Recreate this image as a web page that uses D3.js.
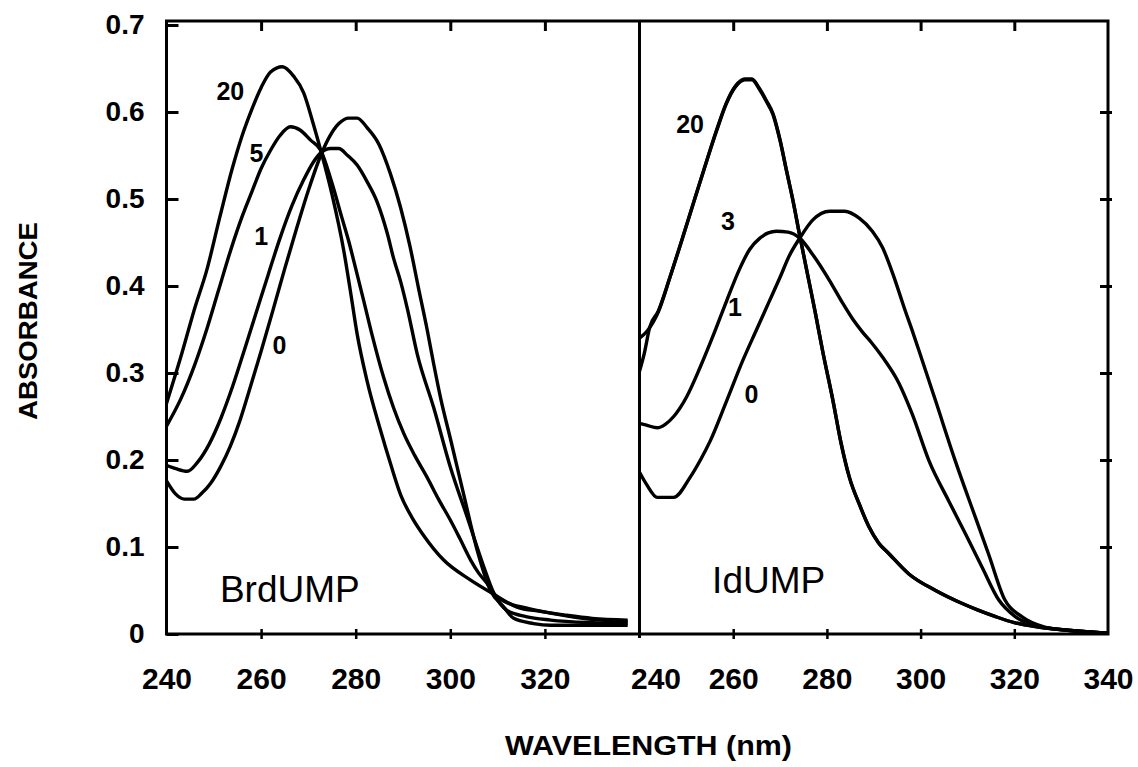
<!DOCTYPE html>
<html>
<head>
<meta charset="utf-8">
<script src="https://cdn.jsdelivr.net/npm/d3@7"></script>
<style>
  body { margin: 0; background: #fff; }
  text { font-family: "Liberation Sans", Arial, Helvetica, sans-serif; fill: #000; }
</style>
</head>
<body>
<svg id="chart" width="1138" height="767"></svg>
<script>
// absorbance readings, [wavelength nm, absorbance]
// BrdUMP panel
const brd20 = [[240,.265],[243,.318],[246,.375],[248.5,.418],[251.4,.482],[253.9,.535],[256,.573],[258.1,.604],[260,.628],[262,.646],[264.5,.652],[266.9,.641],[269,.622],[271.1,.585],[272.6,.556],[275,.505],[277.5,.44],[279,.39],[280.3,.345],[282.4,.291],[285.2,.235],[287.4,.195],[289.5,.160],[292,.133],[294.4,.113],[298.6,.085],[304.3,.062],[308.5,.048],[314.1,.031],[319,.026],[324,.022],[330,.018],[337.5,.016]];
const brd5 = [[240,.239],[243,.27],[246,.31],[248.5,.35],[251,.395],[253.5,.44],[256,.48],[258.1,.509],[260,.535],[262,.556],[264,.573],[266.2,.583],[268.3,.579],[270.4,.568],[272.6,.556],[275,.518],[277,.48],[278.5,.452],[280,.42],[281.7,.383],[283.5,.343],[285.9,.295],[288,.26],[290.2,.23],[292.5,.205],[295.1,.180],[297.5,.155],[300,.131],[302,.11],[304.3,.085],[306,.07],[307.8,.058],[309.1,.047],[312,.036],[316,.03],[321.2,.024],[328,.018],[337.5,.014]];
const brd1 = [[240,.194],[242,.19],[244.4,.187],[246.5,.197],[249,.218],[251.5,.248],[254,.285],[256.5,.327],[259,.37],[261.5,.413],[264,.455],[266.5,.492],[269,.522],[271,.542],[272.6,.553],[274.7,.558],[276.4,.558],[278.3,.55],[280.3,.539],[282.4,.52],[284.5,.497],[286.7,.46],[288,.432],[289.5,.405],[291,.372],[293,.322],[296.5,.26],[300,.192],[303.6,.134],[307.1,.077],[309.2,.047],[312,.027],[316,.02],[321.2,.016],[330,.013],[337.5,.012]];
const brd0 = [[240,.176],[241.9,.161],[243.8,.155],[245.8,.155],[247.5,.162],[249.3,.173],[251.5,.193],[253.5,.216],[255.5,.245],[257.5,.28],[260,.325],[262.5,.372],[265,.42],[267.5,.466],[270,.51],[272.6,.55],[274.5,.572],[276.5,.587],[278.5,.593],[280.3,.593],[282.4,.582],[284.9,.563],[287.4,.528],[289.5,.49],[291.5,.445],[293.3,.397],[295.1,.35],[296.5,.31],[298,.27],[300,.225],[302.8,.161],[305.7,.096],[308.5,.05],[311.3,.031],[313.4,.018],[317.6,.012],[321.2,.01],[337.5,.01]];

// IdUMP panel
const id20 = [[240,.34],[241.6,.348],[244,.37],[246.5,.41],[249,.452],[251.5,.495],[254,.538],[256.5,.58],[258.5,.61],[260.5,.63],[262.5,.638],[264,.638],[265.5,.628],[267.1,.613],[268.5,.598],[270,.568],[271.4,.532],[272.8,.497],[274.2,.458],[276.3,.402],[277.5,.37],[279.1,.325],[281.3,.268],[283,.22],[284.8,.180],[287,.148],[289,.123],[291,.105],[293.3,.092],[297.5,.069],[303.2,.050],[308.9,.035],[312,.028],[316,.020],[320,.013],[325.1,.008],[332,.004],[340,.001]];
const id3 = [[240,.302],[241,.322],[242.2,.353],[244,.371],[246.5,.41],[249,.452],[251.5,.495],[254,.538],[256.5,.579],[258.5,.609],[260.5,.629],[262.5,.637],[264,.637],[265.5,.627],[267.1,.612],[268.5,.597],[270,.567],[271.4,.532],[272.8,.497],[274.2,.458],[276.3,.402],[277.5,.37],[279.1,.325],[281.3,.268],[283,.22],[284.8,.180],[287,.148],[289,.123],[291,.105],[293.3,.092],[297.5,.069],[303.2,.050],[308.9,.035],[312,.028],[316,.020],[320,.013],[325.1,.008],[332,.004],[340,.001]];
const id1 = [[240,.242],[241.5,.24],[243.8,.237],[245.5,.241],[247.3,.25],[250.1,.273],[252.9,.306],[255.8,.344],[258.6,.383],[261.4,.42],[263.5,.442],[265.7,.455],[267.5,.461],[269.2,.463],[271.7,.462],[274.2,.455],[277,.436],[280.6,.406],[283.4,.38],[285.5,.362],[287.6,.347],[289.5,.335],[291.9,.318],[295.4,.288],[298.2,.253],[301.8,.199],[306,.153],[309.6,.115],[313.1,.077],[316.7,.039],[320.2,.020],[325.9,.008],[332,.004],[340,.001]];
const id0 = [[240,.186],[241.5,.172],[243.8,.157],[247.3,.157],[250.8,.180],[253,.2],[255.1,.222],[258.6,.268],[262.1,.315],[265,.35],[267.5,.38],[270,.41],[272,.435],[274.2,.455],[277,.476],[280.6,.486],[283.8,.486],[286.9,.478],[289.7,.463],[291.9,.444],[294,.415],[295.4,.393],[296.5,.375],[298.2,.349],[299.7,.325],[303.2,.268],[307.4,.199],[311.7,.134],[314.5,.092],[318,.039],[321.6,.020],[326.5,.008],[332,.004],[340,.001]];

// tick labels
const yTicks = [0, 0.1, 0.2, 0.3, 0.4, 0.5, 0.6, 0.7];
const xTicksLeft = [240, 260, 280, 300, 320];
const xTicksRight = [240, 260, 280, 300, 320, 340];

// curve labels [text, wavelength, absorbance]
const brdLabels = [["20", 253.5, .624], ["5", 259.0, .553], ["1", 260.0, .457], ["0", 263.9, .332]];
const idLabels = [["20", 250.8, .586], ["3", 258.9, .475], ["1", 260.4, .376], ["0", 263.9, .276]];

const svg = d3.select('#chart');

const y = d3.scaleLinear().domain([0, 0.7]).range([634, 25]);
const xL = d3.scaleLinear().domain([240, 340]).range([166.5, 639.5]);
const xR = d3.scaleLinear().domain([240, 340]).range([639.5, 1108]);

const frameTop = y(0.7) - 4;
const frameBottom = y(0);

function drawPanel(x, series, labels, name, nameAt, ticks, rightAxis) {
  const g = svg.append('g');

  // bottom axis: labels plus short ticks crossing the frame
  const bAxis = d3.axisBottom(x).tickValues(ticks).tickSize(0).tickPadding(34)
    .tickFormat(d3.format('d'));
  const gb = g.append('g').attr('transform', `translate(0,${frameBottom})`).call(bAxis);
  gb.select('.domain').remove();
  gb.selectAll('.tick').filter(d => d > 240 && d < 340).append('line')
    .attr('y1', -5).attr('y2', 5).attr('stroke', '#000').attr('stroke-width', 2.5);
  gb.selectAll('text').attr('font-size', 30).attr('font-weight', 'bold')
    .attr('font-family', '"Liberation Sans", Arial, sans-serif');
  if (rightAxis) gb.selectAll('.tick').filter(d => d === 240).select('text').attr('dx', 16);

  // top ticks pointing down
  const gt = g.append('g').attr('transform', `translate(0,${frameTop})`)
    .call(d3.axisTop(x).tickValues([260, 280, 300, 320]).tickSize(-10).tickFormat(''));
  gt.select('.domain').remove();
  gt.selectAll('line').attr('stroke-width', 3);

  if (rightAxis) {
    const gr = g.append('g').attr('transform', `translate(${x.range()[1]},0)`)
      .call(d3.axisRight(y).tickValues([0.1, 0.2, 0.3, 0.4, 0.5, 0.6]).tickSizeInner(-8).tickSizeOuter(0).tickFormat(''));
    gr.select('.domain').remove();
    gr.selectAll('.tick').append('line').attr('x1', 0).attr('x2', 4).attr('stroke', '#000');
    gr.selectAll('line').attr('stroke-width', 3);
  }

  const line = d3.line().x(d => x(d[0])).y(d => y(d[1])).curve(d3.curveMonotoneX);
  g.selectAll('path.curve').data(series).enter().append('path')
    .attr('class', 'curve')
    .attr('d', line)
    .attr('fill', 'none')
    .attr('stroke', '#000')
    .attr('stroke-width', 3.4)
    .attr('stroke-linejoin', 'round');

  g.selectAll('text.lab').data(labels).enter().append('text')
    .attr('class', 'lab')
    .attr('x', d => x(d[1])).attr('y', d => y(d[2]))
    .attr('dy', '0.36em')
    .attr('text-anchor', 'middle')
    .attr('font-size', 25).attr('font-weight', 'bold')
    .text(d => d[0]);

  g.append('text')
    .attr('x', x(nameAt[0])).attr('y', y(nameAt[1]))
    .attr('font-size', 37)
    .text(name);
}

drawPanel(xL, [brd20, brd5, brd1, brd0], brdLabels, 'BrdUMP', [251.3, 0.037], xTicksLeft, false);
drawPanel(xR, [id20, id3, id1, id0], idLabels, 'IdUMP', [255.5, 0.047], xTicksRight, true);

// left axis
const gl = svg.append('g').attr('transform', `translate(${xL.range()[0]},0)`)
  .call(d3.axisLeft(y).tickValues(yTicks).tickSizeInner(-12).tickSizeOuter(0).tickPadding(22)
    .tickFormat(d => d === 0 ? '0' : d3.format('.1f')(d)));
gl.select('.domain').remove();
gl.selectAll('line').attr('stroke-width', 3);
gl.selectAll('text').attr('font-size', 28).attr('font-weight', 'bold')
  .attr('font-family', '"Liberation Sans", Arial, sans-serif');

// frame and panel divider
const frame = svg.append('g').attr('fill', 'none').attr('stroke', '#000').attr('stroke-width', 3);
frame.append('rect')
  .attr('x', xL.range()[0]).attr('y', frameTop)
  .attr('width', xR.range()[1] - xL.range()[0]).attr('height', frameBottom - frameTop);
frame.append('line')
  .attr('x1', xL.range()[1]).attr('x2', xL.range()[1])
  .attr('y1', frameTop).attr('y2', frameBottom + 4);

// axis titles
svg.append('text')
  .attr('transform', 'translate(37,321) rotate(-90)')
  .attr('text-anchor', 'middle')
  .attr('font-size', 26).attr('font-weight', 'bold')
  .attr('textLength', 198).attr('lengthAdjust', 'spacingAndGlyphs')
  .text('ABSORBANCE');

svg.append('text')
  .attr('x', 505).attr('y', 755)
  .attr('font-size', 28).attr('font-weight', 'bold')
  .attr('textLength', 287).attr('lengthAdjust', 'spacingAndGlyphs')
  .text('WAVELENGTH (nm)');
</script>
</body>
</html>
